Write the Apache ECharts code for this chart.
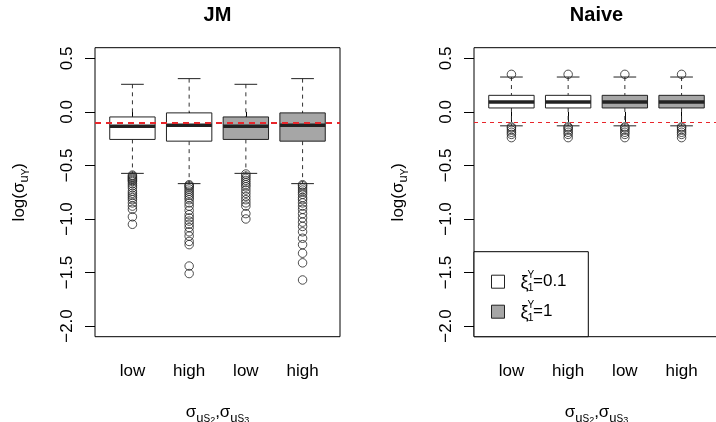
<!DOCTYPE html>
<html>
<head>
<meta charset="utf-8">
<script src="https://cdn.jsdelivr.net/npm/echarts@6/dist/echarts.min.js"></script>
<style>
  html, body { margin: 0; padding: 0; background: #fff; }
  #chart { width: 716px; height: 422px; }
</style>
</head>
<body>
<div id="chart"></div>
<script>
// 横轴分类 (σ_uS2, σ_uS3)
const categories = ['low', 'high', 'low', 'high']
// 每个箱子属于哪个 ξ 组: 0 -> ξ=0.1 (白), 1 -> ξ=1 (灰)
const xiGroup = [0, 0, 1, 1]
const xiLabels = ['0.1', '1']
// 箱线统计量: [下须, Q1, 中位数, Q3, 上须]
const jmStats = [
  [-0.574, -0.257, -0.133, -0.047, 0.258],
  [-0.670, -0.273, -0.124, -0.009, 0.311],
  [-0.574, -0.257, -0.133, -0.047, 0.258],
  [-0.670, -0.273, -0.124, -0.009, 0.311]
]
const jmOutliers = [
  [-0.59, -0.60, -0.61, -0.62, -0.63, -0.64, -0.65, -0.67, -0.69, -0.71, -0.74, -0.76, -0.78, -0.80, -0.82, -0.85, -0.88, -0.91, -0.98, -1.05],
  [-0.68, -0.69, -0.70, -0.72, -0.74, -0.76, -0.78, -0.80, -0.82, -0.85, -0.88, -0.92, -0.96, -0.99, -1.02, -1.05, -1.08, -1.12, -1.16, -1.21, -1.24, -1.44, -1.51],
  [-0.58, -0.60, -0.62, -0.64, -0.66, -0.68, -0.70, -0.73, -0.76, -0.79, -0.82, -0.85, -0.88, -0.95, -1.00],
  [-0.68, -0.69, -0.71, -0.73, -0.75, -0.77, -0.80, -0.82, -0.85, -0.88, -0.91, -0.95, -0.99, -1.03, -1.07, -1.12, -1.18, -1.24, -1.32, -1.41, -1.57]
]
const naiveStats = [
  [-0.130, 0.037, 0.093, 0.155, 0.326],
  [-0.130, 0.037, 0.093, 0.155, 0.326],
  [-0.130, 0.037, 0.093, 0.155, 0.326],
  [-0.130, 0.037, 0.093, 0.155, 0.326]
]
const naiveOutliers = [
  [0.351, -0.14, -0.15, -0.17, -0.19, -0.21, -0.24],
  [0.351, -0.14, -0.15, -0.17, -0.19, -0.21, -0.24],
  [0.351, -0.14, -0.15, -0.17, -0.19, -0.21, -0.24],
  [0.351, -0.14, -0.15, -0.17, -0.19, -0.21, -0.24]
]
// 真值参考线
const trueValue = -0.105
const yTicks = [-2, -1.5, -1, -0.5, 0, 0.5]
const xTicks = [1, 2, 3, 4]

const FONT = 'Liberation Sans'
const GREY = '#a6a6a6'
const INK = '#222'
const RED = '#e8262b'

// 画一个 R 风格的箱子
function renderBox(params, api) {
  const x = api.value(0)
  const lo = api.coord([x, api.value(1)])
  const bl = api.coord([x - 0.4, api.value(2)])
  const tr = api.coord([x + 0.4, api.value(4)])
  const hi = api.coord([x, api.value(5)])
  const m1 = api.coord([x - 0.4, api.value(3)])
  const m2 = api.coord([x + 0.4, api.value(3)])
  const half = api.coord([x + 0.2, 0])[0] - api.coord([x, 0])[0]
  const fill = api.value(6) === 1 ? GREY : '#fff'
  const dash = { stroke: '#333', lineWidth: 1, lineDash: [4, 4] }
  const solid = { stroke: INK, lineWidth: 1 }
  return {
    type: 'group',
    children: [
      { type: 'line', shape: { x1: hi[0], y1: hi[1], x2: hi[0], y2: tr[1] }, style: dash },
      { type: 'line', shape: { x1: lo[0], y1: bl[1], x2: lo[0], y2: lo[1] }, style: dash },
      { type: 'line', shape: { x1: hi[0] - half, y1: hi[1], x2: hi[0] + half, y2: hi[1] }, style: solid },
      { type: 'line', shape: { x1: lo[0] - half, y1: lo[1], x2: lo[0] + half, y2: lo[1] }, style: solid },
      { type: 'rect', shape: { x: bl[0], y: tr[1], width: tr[0] - bl[0], height: bl[1] - tr[1] }, style: { fill: fill, stroke: INK, lineWidth: 1 } },
      { type: 'line', shape: { x1: m1[0], y1: m1[1], x2: m2[0], y2: m2[1] }, style: { stroke: INK, lineWidth: 3.5 } }
    ]
  }
}

function boxData(stats) {
  return stats.map((s, i) => [i + 1].concat(s, [xiGroup[i]]))
}
function outlierData(outliers) {
  const res = []
  outliers.forEach((list, i) => list.forEach(v => res.push([i + 1, v])))
  return res
}
function fmtNum(v) {
  return v.toFixed(1).replace('-', '\u2212')
}

const mainRich = {
  a: { fontFamily: FONT, fontSize: 17, lineHeight: 24, color: '#000' },
  b: { fontFamily: FONT, fontSize: 13, lineHeight: 14, verticalAlign: 'bottom', color: '#000' },
  c: { fontFamily: FONT, fontSize: 10, lineHeight: 9, verticalAlign: 'bottom', color: '#000' },
  d: { fontFamily: FONT, fontSize: 9, lineHeight: 3, verticalAlign: 'bottom', color: '#000' }
}
const yName = '{a|log(σ}{b|u}{c|Y}{a|)}'
const xName = '{a|σ}{b|u}{c|S}{d|2}{a|,σ}{b|u}{c|S}{d|3}'

function makeX(gridIndex) {
  return {
    type: 'value', gridIndex: gridIndex, min: 0.34, max: 4.66,
    axisLine: { show: false }, splitLine: { show: false },
    axisTick: { show: true, customValues: xTicks, length: 10, lineStyle: { color: '#000' } },
    axisLabel: { customValues: xTicks, margin: 26, fontSize: 17, color: '#000', fontFamily: FONT,
      formatter: v => categories[Math.round(v) - 1] },
    name: xName, nameLocation: 'middle', nameGap: 64,
    nameTextStyle: { rich: mainRich }
  }
}
function makeY(gridIndex) {
  return {
    type: 'value', gridIndex: gridIndex, min: -2.1, max: 0.6,
    axisLine: { show: false }, splitLine: { show: false },
    axisTick: { show: true, customValues: yTicks, length: 10, lineStyle: { color: '#000' } },
    axisLabel: { customValues: yTicks, rotate: 90, margin: 19, fontSize: 17, color: '#000', fontFamily: FONT,
      formatter: fmtNum },
    name: yName, nameLocation: 'middle', nameRotate: 90, nameGap: 64,
    nameTextStyle: { rich: mainRich }
  }
}

function panelSeries(idx, stats, outliers, lineWidth, lineDash) {
  return [
    {
      type: 'custom', xAxisIndex: idx, yAxisIndex: idx,
      renderItem: renderBox,
      data: boxData(stats),
      encode: { x: 0, y: [1, 2, 3, 4, 5] }
    },
    {
      type: 'scatter', xAxisIndex: idx, yAxisIndex: idx,
      symbol: 'circle', symbolSize: 8.5,
      itemStyle: { color: 'rgba(0,0,0,0)', borderColor: INK, borderWidth: 1 },
      data: outlierData(outliers)
    },
    {
      type: 'line', xAxisIndex: idx, yAxisIndex: idx, data: [],
      itemStyle: { color: RED },
      markLine: {
        silent: true, symbol: 'none', label: { show: false }, z: 10,
        lineStyle: { color: RED, width: lineWidth, type: lineDash, opacity: 1 },
        data: [{ yAxis: trueValue }]
      }
    }
  ]
}

function txt(x, y, text, size) {
  return { type: 'text', z: 20, x: x, y: y,
    style: { text: text, fontSize: size, fontFamily: FONT, fill: '#000', verticalAlign: 'middle' } }
}
function legendItem(y, fill, label) {
  return [
    { type: 'rect', z: 20, shape: { x: 491.5, y: y - 6.5, width: 13, height: 13 }, style: { fill: fill, stroke: INK, lineWidth: 1 } },
    txt(520.5, y + 1, 'ξ', 18),
    txt(527.5, y - 6, 'Y', 10),
    txt(527.5, y + 6, '1', 11),
    txt(533, y, '=' + label, 17)
  ]
}

const myChart = echarts.init(document.querySelector('#chart'))
const option = {
  animation: false,
  textStyle: { fontFamily: FONT },
  grid: [
    { left: 95, top: 47.7, width: 245, height: 289, show: true, borderColor: '#000', borderWidth: 1, backgroundColor: 'transparent', outerBoundsMode: 'none', containLabel: false },
    { left: 474, top: 47.7, width: 245, height: 289, show: true, borderColor: '#000', borderWidth: 1, backgroundColor: 'transparent', outerBoundsMode: 'none', containLabel: false }
  ],
  xAxis: [makeX(0), makeX(1)],
  yAxis: [makeY(0), makeY(1)],
  series: panelSeries(0, jmStats, jmOutliers, 2, [6, 5])
    .concat(panelSeries(1, naiveStats, naiveOutliers, 1, [4, 4])),
  graphic: [
    { type: 'text', x: 217.5, y: 15, style: { text: 'JM', fontSize: 20, fontWeight: 'bold', fontFamily: FONT, fill: '#000', align: 'center', verticalAlign: 'middle' } },
    { type: 'text', x: 596.5, y: 15, style: { text: 'Naive', fontSize: 20, fontWeight: 'bold', fontFamily: FONT, fill: '#000', align: 'center', verticalAlign: 'middle' } },
    { type: 'rect', z: 10, shape: { x: 474, y: 251.7, width: 114.3, height: 85 }, style: { fill: '#fff', stroke: '#000', lineWidth: 1 } }
  ].concat(legendItem(281.7, '#fff', xiLabels[0]), legendItem(311.7, GREY, xiLabels[1]))
}
myChart.setOption(option)
</script>
</body>
</html>
